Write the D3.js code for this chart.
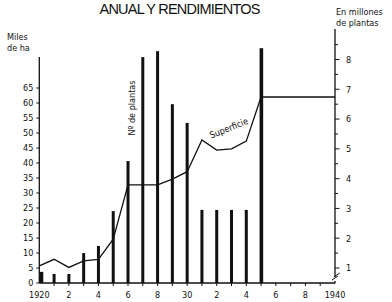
<!DOCTYPE html>
<html>
<head>
<meta charset="utf-8">
<script src="https://cdn.jsdelivr.net/npm/d3@7"></script>
<style>
  body { margin: 0; background: #fff; }
  text { fill: #111; }
</style>
</head>
<body>
<div id="chart"></div>
<script>
// años del eje x
var years = d3.range(1920, 1936);
// Nº de plantas (millones) - barras, eje derecho
var plantas = [0.87, 0.80, 0.80, 1.50, 1.74, 2.91, 4.59, 8.08, 8.28, 6.50, 5.87, 2.95, 2.95, 2.95, 2.95, 8.38];
// Superficie (miles de ha) - linea, eje izquierdo
var supYears = [1920, 1921, 1922, 1923, 1924, 1925, 1926, 1927, 1928, 1929, 1930, 1931, 1932, 1933, 1934, 1935, 1940];
var superficie = [5.7, 7.9, 5.2, 7.4, 7.9, 14.6, 32.7, 32.7, 32.7, 34.6, 37.1, 47.7, 44.3, 44.7, 47.3, 62, 62];
// etiquetas
var xTickYears = [1920, 1922, 1924, 1926, 1928, 1930, 1932, 1934, 1936, 1938, 1940];
var xTickLabels = ["1920", "2", "4", "6", "8", "30", "2", "4", "6", "8", "1940"];
var leftTicks = [0, 5, 10, 15, 20, 25, 30, 35, 40, 45, 50, 55, 60, 65];
var rightTicks = [1, 2, 3, 4, 5, 6, 7, 8];

var width = 392, height = 302;
var font = "'DejaVu Sans Condensed', 'DejaVu Sans', sans-serif";

var svg = d3.select("#chart").append("svg")
    .attr("width", width)
    .attr("height", height);

var x = d3.scaleLinear().domain([1920, 1940]).range([39.3, 335]);
var yL = d3.scaleLinear().domain([0, 65]).range([283, 88]);
var yR = d3.scaleLinear().domain([1, 8]).range([268, 59.5]);

// titulo
svg.append("text")
    .attr("x", 180).attr("y", 13.5)
    .attr("text-anchor", "middle")
    .attr("textLength", 161)
    .style("font-family", "'Liberation Sans', sans-serif")
    .style("font-size", "14.5px")
    .text("ANUAL Y RENDIMIENTOS");

// rotulos de los ejes
svg.append("text").attr("x", 7).attr("y", 40)
    .style("font-family", font).style("font-size", "9px").text("Miles");
svg.append("text").attr("x", 7).attr("y", 51)
    .style("font-family", font).style("font-size", "9px").text("de ha");
svg.append("text").attr("x", 336).attr("y", 15)
    .style("font-family", font).style("font-size", "9px").text("En millones");
svg.append("text").attr("x", 336).attr("y", 25.5)
    .style("font-family", font).style("font-size", "9px").text("de plantas");

// eje izquierdo
var gL = svg.append("g").attr("transform", "translate(39.3,0)");
gL.append("line").attr("y1", 57).attr("y2", 283).attr("stroke", "#111").attr("stroke-width", 1.3);
gL.selectAll(".tk").data(leftTicks).enter().append("line")
    .attr("x1", -3).attr("x2", 0)
    .attr("y1", function(d) { return yL(d); })
    .attr("y2", function(d) { return yL(d); })
    .attr("stroke", "#111");
gL.selectAll(".lb").data(leftTicks).enter().append("text")
    .attr("x", -6)
    .attr("y", function(d) { return yL(d) + 3.3; })
    .attr("text-anchor", "end")
    .style("font-family", font).style("font-size", "9px")
    .text(function(d) { return d; });

// eje derecho
var gR = svg.append("g").attr("transform", "translate(335,0)");
gR.append("line").attr("y1", 29).attr("y2", 277).attr("stroke", "#111").attr("stroke-width", 1.3);
gR.append("line").attr("y1", 281).attr("y2", 283.5).attr("stroke", "#111").attr("stroke-width", 1.3);
gR.selectAll(".br").data([0, 3]).enter().append("line")
    .attr("x1", function(d) { return -3 + d * 0.6; })
    .attr("x2", function(d) { return 3 + d * 0.6; })
    .attr("y1", function(d) { return 280 - d; })
    .attr("y2", function(d) { return 276 - d; })
    .attr("stroke", "#111");
var minor = d3.range(1.5, 9, 1);
gR.selectAll(".mn").data(minor).enter().append("line")
    .attr("x1", 0).attr("x2", 3)
    .attr("y1", function(d) { return yR(d); })
    .attr("y2", function(d) { return yR(d); })
    .attr("stroke", "#111");
gR.selectAll(".tk").data(rightTicks).enter().append("line")
    .attr("x1", 0).attr("x2", 4.5)
    .attr("y1", function(d) { return yR(d); })
    .attr("y2", function(d) { return yR(d); })
    .attr("stroke", "#111");
gR.selectAll(".lb").data(rightTicks).enter().append("text")
    .attr("x", 11)
    .attr("y", function(d) { return yR(d) + 3.3; })
    .style("font-family", font).style("font-size", "9px")
    .text(function(d) { return d; });

// eje x
svg.append("line").attr("x1", 39.3).attr("x2", 335)
    .attr("y1", 283).attr("y2", 283).attr("stroke", "#111").attr("stroke-width", 1.3);
svg.selectAll(".xt").data(d3.range(1921, 1940)).enter().append("line")
    .attr("x1", function(d) { return x(d); })
    .attr("x2", function(d) { return x(d); })
    .attr("y1", 283).attr("y2", 286)
    .attr("stroke", "#111");
svg.selectAll(".xl").data(xTickYears).enter().append("text")
    .attr("x", function(d) { return x(d); })
    .attr("y", 298)
    .attr("text-anchor", "middle")
    .style("font-family", font).style("font-size", "9px")
    .text(function(d, i) { return xTickLabels[i]; });

// barras: Nº de plantas
svg.selectAll(".bar").data(plantas).enter().append("rect")
    .attr("x", function(d, i) { return i === 0 ? x(years[i]) : x(years[i]) - 1.5; })
    .attr("width", function(d, i) { return i === 0 ? 4 : (i === 15 ? 3.6 : 3); })
    .attr("y", function(d) { return yR(d); })
    .attr("height", function(d) { return yL(0) - yR(d); })
    .attr("fill", "#111");

// linea: Superficie
var line = d3.line()
    .x(function(d, i) { return x(supYears[i]); })
    .y(function(d) { return yL(d); });
svg.append("path")
    .datum(superficie)
    .attr("d", line)
    .attr("fill", "none")
    .attr("stroke", "#111")
    .attr("stroke-width", 1.3);

// etiquetas de las series
svg.append("text")
    .attr("transform", "translate(135,108) rotate(-90)")
    .attr("text-anchor", "middle")
    .style("font-family", font).style("font-size", "9px")
    .text("Nº de plantas");
svg.append("text")
    .attr("transform", "translate(230,131) rotate(-22)")
    .attr("text-anchor", "middle")
    .style("font-family", font).style("font-size", "9px")
    .text("Superficie");
</script>
</body>
</html>
